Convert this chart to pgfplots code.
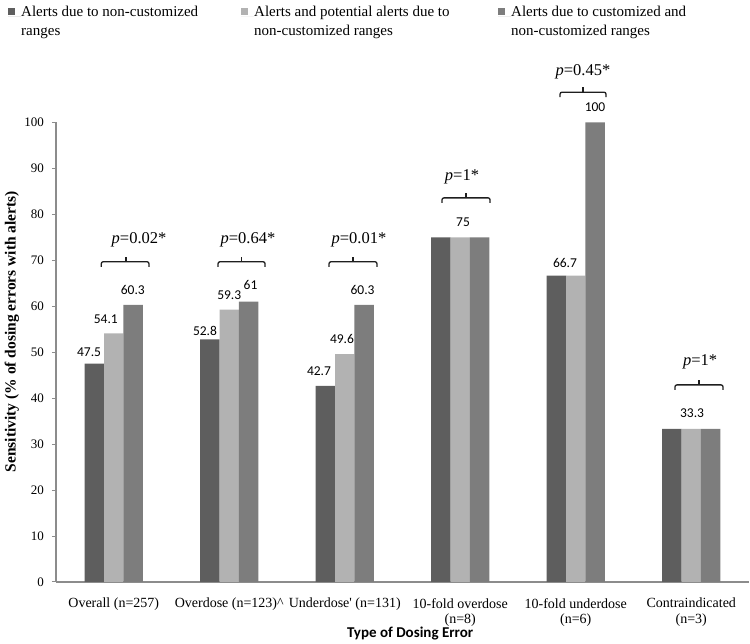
\documentclass[border=0pt]{standalone}
\usepackage{pgfplots}
\pgfplotsset{compat=1.18}
\usepackage{fontspec}
\setmainfont{Liberation Serif}
\newfontfamily\calibri{Carlito}
\definecolor{cA}{RGB}{94,94,94}
\definecolor{cB}{RGB}{178,178,178}
\definecolor{cC}{RGB}{125,125,125}
\definecolor{axgray}{RGB}{140,140,140}
\definecolor{brk}{RGB}{30,30,30}
\begin{document}
\begin{tikzpicture}
\begin{axis}[
  scale only axis, width=693pt, height=459.5pt,
  xmin=-0.5, xmax=5.5, ymin=0, ymax=100,
  clip=false,
  axis x line=bottom, axis y line=left,
  axis line style={-, draw=axgray, line width=1.3pt},
  ytick={0,10,...,100},
  ytick style={draw=axgray, line width=1pt},
  tick align=outside, major tick length=4pt,
  /pgf/number format/assume math mode=true,
  yticklabel style={font=\fontsize{13}{13}\selectfont, inner sep=0pt, xshift=-8pt},
  xtick={0,...,5}, xtick style={draw=none},
  xticklabels={Overall (n=257), Overdose (n=123)\textasciicircum, Underdose\textquotesingle{} (n=131), 10-fold overdose\\(n=8), 10-fold underdose\\(n=6), Contraindicated\\(n=3)},
  xticklabel style={align=center, font=\fontsize{14}{15.5}\selectfont, anchor=north, inner sep=0pt, yshift=-12pt},
  xlabel={\calibri\bfseries Type of Dosing Error},
  xlabel style={at={(axis description cs:0.511,-0.112)}, anchor=center, font=\fontsize{15}{15}\selectfont},
  ylabel={\bfseries Sensitivity (\% of dosing errors with alerts)},
  ylabel style={at={(axis description cs:-0.0635,0.545)}, anchor=center, font=\fontsize{15.5}{15.5}\selectfont},
  ybar, bar width=19.4pt,
  legend columns=3,
  legend style={at={(axis description cs:0,1)}, anchor=north west, xshift=-48pt, yshift=117pt,
    draw=none, inner sep=0pt, column sep=0pt, font=\fontsize{15}{19}\selectfont,
    nodes={inner sep=0pt, anchor=base west}},
  legend image code/.code={\path (0pt,0pt) -- (13pt,0pt); \fill[#1,draw=none] (0pt,1.5pt) rectangle (7pt,8.5pt);},
]
\addplot[fill=cA, draw=none, bar shift=-19.4pt] coordinates {(0,47.5) (1,52.8) (2,42.7) (3,75) (4,66.7) (5,33.3)};
\addlegendentry{\parbox[t]{220pt}{Alerts due to non-customized\\ranges}}
\addplot[fill=cB, draw=none, bar shift=0pt] coordinates {(0,54.1) (1,59.3) (2,49.6) (3,75) (4,66.7) (5,33.3)};
\addlegendentry{\parbox[t]{244pt}{Alerts and potential alerts due to\\non-customized ranges}}
\addplot[fill=cC, draw=none, bar shift=19.4pt] coordinates {(0,60.3) (1,61) (2,60.3) (3,75) (4,100) (5,33.3)};
\addlegendentry{\parbox[t]{240pt}{Alerts due to customized and\\non-customized ranges}}

% value labels
\begin{scope}[every node/.style={font=\calibri\fontsize{13.5}{14}\selectfont, inner sep=0pt}]
\node at (axis cs:-0.214,50.05) {47.5};
\node at (axis cs:-0.069,57.2) {54.1};
\node at (axis cs:0.165,63.5) {60.3};
\node at (axis cs:0.790,54.6) {52.8};
\node at (axis cs:1.000,62.5) {59.3};
\node at (axis cs:1.184,64.6) {61};
\node at (axis cs:1.777,45.9) {42.7};
\node at (axis cs:1.976,52.9) {49.6};
\node at (axis cs:2.154,63.5) {60.3};
\node at (axis cs:3.024,78.4) {75};
\node at (axis cs:3.907,69.4) {66.7};
\node at (axis cs:4.167,103.4) {100};
\node at (axis cs:5.007,36.7) {33.3};
\end{scope}

% brackets
\begin{scope}[brk, line width=1.3pt]
\draw[rounded corners=2pt] (axis cs:-0.108,68.6) -- (axis cs:-0.108,69.7) -- (axis cs:0.305,69.7) -- (axis cs:0.305,68.6);
\draw (axis cs:0.106,69.7) -- (axis cs:0.106,70.8);
\draw[rounded corners=2pt] (axis cs:0.903,68.6) -- (axis cs:0.903,69.7) -- (axis cs:1.310,69.7) -- (axis cs:1.310,68.6);
\draw (axis cs:1.106,69.7) -- (axis cs:1.106,70.8);
\draw[rounded corners=2pt] (axis cs:1.864,68.6) -- (axis cs:1.864,69.7) -- (axis cs:2.279,69.7) -- (axis cs:2.279,68.6);
\draw (axis cs:2.071,69.7) -- (axis cs:2.071,70.8);
\draw[rounded corners=2pt] (axis cs:2.842,82.5) -- (axis cs:2.842,83.6) -- (axis cs:3.258,83.6) -- (axis cs:3.258,82.5);
\draw (axis cs:3.050,83.6) -- (axis cs:3.050,84.7);
\draw[rounded corners=2pt] (axis cs:3.864,105.5) -- (axis cs:3.864,106.6) -- (axis cs:4.262,106.6) -- (axis cs:4.262,105.5);
\draw (axis cs:4.063,106.6) -- (axis cs:4.063,107.7);
\draw[rounded corners=2pt] (axis cs:4.859,41.8) -- (axis cs:4.859,42.9) -- (axis cs:5.275,42.9) -- (axis cs:5.275,41.8);
\draw (axis cs:5.067,42.9) -- (axis cs:5.067,44.0);
\end{scope}

% p values
\begin{scope}[every node/.style={font=\fontsize{16.5}{17}\selectfont, inner sep=0pt}]
\node at (axis cs:0.219,74.4) {\textit{p}=0.02*};
\node at (axis cs:1.162,74.4) {\textit{p}=0.64*};
\node at (axis cs:2.123,74.4) {\textit{p}=0.01*};
\node at (axis cs:3.015,88.1) {\textit{p}=1*};
\node at (axis cs:4.063,111.0) {\textit{p}=0.45*};
\node at (axis cs:5.076,47.9) {\textit{p}=1*};
\end{scope}
\end{axis}
\pgfresetboundingbox
\path[use as bounding box] (-56pt,-62pt) rectangle (694pt,582pt);
\end{tikzpicture}
\end{document}
